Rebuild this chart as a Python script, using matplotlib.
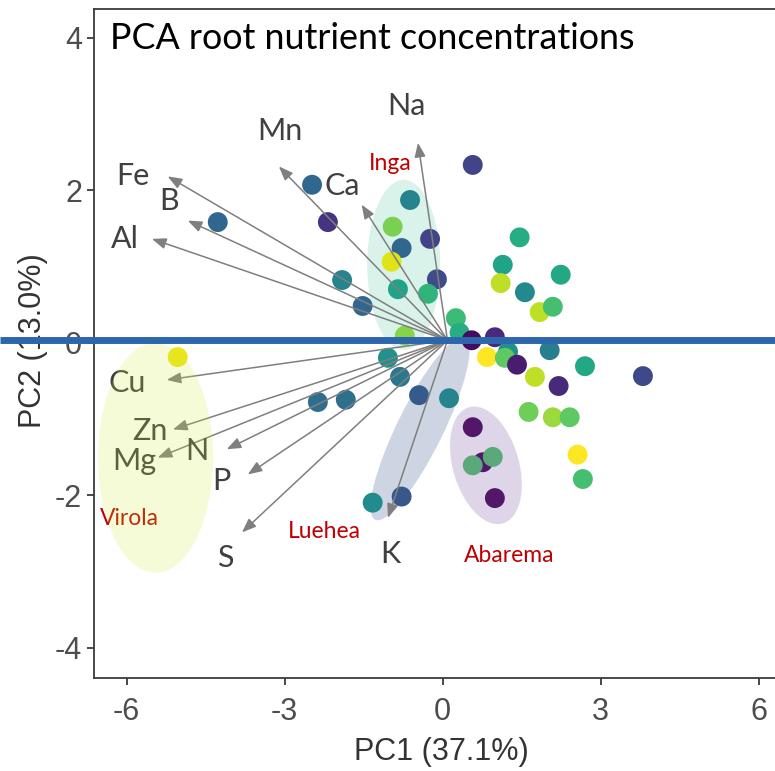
import numpy as np
import matplotlib
matplotlib.use("Agg")
import matplotlib.pyplot as plt
from matplotlib.patches import Ellipse
from matplotlib.lines import Line2D
from matplotlib.transforms import ScaledTranslation

plt.rcParams["axes.unicode_minus"] = False

# ---- sample scores on the first two principal components ----
pc1 = [-4.27, -2.48, -2.18, 0.57, -0.62, -0.95, -0.24, -0.78, -0.97, -1.91,
       -0.85, -0.11, -0.28, -1.52, 0.25, 0.32, -0.72, 1.46, 1.14, 1.10,
       1.56, 2.24, 1.84, 2.09, 0.55, 0.99, 2.03, 0.84, 1.24, 1.18,
       1.41, 1.75, 2.20, 2.70, 3.80, 0.12, 1.63, 2.09, 2.41, 2.56,
       2.66, 0.57, 0.76, 0.99, 0.57, 0.95, -2.37, -1.84, -1.04, -0.81,
       -0.45, -1.33, -0.78, -5.03]
pc2 = [1.58, 2.07, 1.58, 2.33, 1.87, 1.52, 1.36, 1.24, 1.06, 0.82,
       0.70, 0.83, 0.64, 0.48, 0.32, 0.13, 0.09, 1.38, 1.02, 0.78,
       0.66, 0.89, 0.40, 0.47, 0.03, 0.07, -0.10, -0.19, -0.12, -0.20,
       -0.29, -0.45, -0.57, -0.31, -0.44, -0.73, -0.91, -0.98, -0.98, -1.47,
       -1.79, -1.11, -1.57, -2.04, -1.61, -1.50, -0.78, -0.75, -0.20, -0.45,
       -0.69, -2.10, -2.02, -0.19]
# continuous colour variable (0-1) mapped through viridis
group_value = [0.33, 0.33, 0.15, 0.20, 0.45, 0.80, 0.20, 0.33, 0.95, 0.45,
               0.58, 0.23, 0.65, 0.33, 0.68, 0.62, 0.82, 0.62, 0.58, 0.90,
               0.47, 0.60, 0.90, 0.70, 0.03, 0.12, 0.42, 1.00, 0.50, 0.75,
               0.08, 0.90, 0.12, 0.60, 0.22, 0.45, 0.78, 0.85, 0.75, 1.00,
               0.70, 0.00, 0.00, 0.00, 0.72, 0.72, 0.36, 0.36, 0.50, 0.40,
               0.28, 0.48, 0.27, 0.97]

# ---- variable loadings (arrow tips, in score units) ----
variables = ["Fe", "B", "Al", "Mn", "Ca", "Na", "Cu", "Zn", "Mg", "N", "P", "S", "K"]
load_pc1 = [-5.22, -4.84, -5.52, -3.11, -1.54, -0.47, -5.24, -5.12, -5.41, -4.10, -3.70, -3.81, -1.04]
load_pc2 = [2.18, 1.60, 1.36, 2.31, 1.81, 2.62, -0.49, -1.14, -1.51, -1.40, -1.73, -2.49, -2.30]
arrow_origin = (0.09, 0.03)

species = ["Inga", "Virola", "Luehea", "Abarema"]

# ---- layout: text anchors (data coords, baseline) ----
var_label_pos = {
    "Fe": (-5.88, 2.07), "B": (-5.20, 1.74), "Al": (-6.03, 1.24),
    "Mn": (-3.09, 2.66), "Ca": (-1.90, 1.93), "Na": (-0.68, 2.98),
    "Cu": (-5.98, -0.65), "Zn": (-5.56, -1.28), "Mg": (-5.86, -1.67),
    "N": (-4.67, -1.54), "P": (-4.21, -1.93), "S": (-4.13, -2.94),
    "K": (-1.00, -2.89),
}
species_label_pos = {
    "Inga": (-1.00, 2.26), "Virola": (-5.94, -2.39),
    "Luehea": (-2.24, -2.56), "Abarema": (1.27, -2.88),
}
# group ellipses: centre (data), width/height in pixels, angle, fill, alpha, on top?
ellipse_style = {
    "Inga":    dict(xy=(-0.74, 1.02), w=73, h=170, angle=0, fc="#D9F2EA", alpha=1.0, top=False),
    "Luehea":  dict(xy=(-0.43, -1.13), w=203, h=46, angle=63.7, fc="#CDD4E2", alpha=1.0, top=False),
    "Virola":  dict(xy=(-5.45, -1.51), w=115, h=230, angle=0, fc="#CDE637", alpha=0.2, top=True),
    "Abarema": dict(xy=(0.82, -1.61), w=121, h=66, angle=-73.7, fc="#835BAB", alpha=0.25, top=True),
}

DPI = 100
fig = plt.figure(figsize=(7.75, 7.71), dpi=DPI)
ax = fig.add_axes([0.1219, 0.1206, 0.8987, 0.8677])
ax.set_xlim(-6.61, 6.61)
ax.set_ylim(-4.40, 4.375)

for side in ["left", "bottom", "top", "right"]:
    ax.spines[side].set_color("#3a3a3a")
    ax.spines[side].set_linewidth(1.3)

ax.set_xticks([-6, -3, 0, 3, 6])
ax.set_yticks([-4, -2, 0, 2, 4])
tick_font = {"family": ["Liberation Sans", "DejaVu Sans"], "size": 22}
ax.set_xticklabels(["-6", "-3", "0", "3", "6"], fontdict=tick_font)
ax.set_yticklabels(["-4", "-2", "0", "2", "4"], fontdict=tick_font)
ax.tick_params(axis="both", colors="#3a3a3a", labelcolor="#4D4D4D", length=5, width=1.3)
ax.tick_params(axis="x", pad=9)
ax.tick_params(axis="y", pad=4)

fig.text(441 / 775, 1 - 752 / 771, "PC1 (37.1%)", ha="center", va="center",
         fontsize=22, family=["Liberation Sans", "DejaVu Sans"], color="#333333")
fig.text(33 / 775, 1 - 341 / 771, "PC2 (13.0%)", ha="center", va="center", rotation=90,
         fontsize=22, family=["Liberation Sans", "DejaVu Sans"], color="#333333")


def add_ellipse(style, z):
    tr = fig.dpi_scale_trans + ScaledTranslation(style["xy"][0], style["xy"][1], ax.transData)
    e = Ellipse((0, 0), style["w"] / DPI, style["h"] / DPI, angle=style["angle"],
                transform=tr, facecolor=style["fc"], edgecolor="none",
                alpha=style["alpha"], zorder=z)
    ax.add_patch(e)


for name in species:
    st = ellipse_style[name]
    add_ellipse(st, 6 if st["top"] else 1)

# sample points
cmap = plt.get_cmap("viridis")
ax.scatter(pc1, pc2, c=[cmap(v) for v in group_value], s=205, edgecolors="none", zorder=3)

# loading arrows
for name, lx, ly in zip(variables, load_pc1, load_pc2):
    ax.annotate("", xy=(lx, ly), xytext=arrow_origin,
                arrowprops=dict(arrowstyle="-|>,head_length=0.85,head_width=0.33",
                                mutation_scale=10, color="#7F7F7F", lw=1.1,
                                shrinkA=0, shrinkB=0), zorder=4)

label_font = ["Lato", "DejaVu Sans"]
for name in variables:
    x, y = var_label_pos[name]
    ax.text(x, y, name, ha="center", va="baseline", fontsize=22,
            family=label_font, color="#404040", zorder=5)

for name in species:
    x, y = species_label_pos[name]
    ax.text(x, y, name, ha="center", va="baseline", fontsize=16.5,
            family=label_font, color="#C00000", zorder=5)

ax.text(-6.32, 3.85, "PCA root nutrient concentrations", ha="left", va="baseline",
        fontsize=25.8, family=label_font, color="black", zorder=5)

# horizontal rule across the whole figure
fig.add_artist(Line2D([0, 1], [1 - 339.5 / 771, 1 - 339.5 / 771], transform=fig.transFigure,
                      color="#2E66AE", lw=5.0, solid_capstyle="butt", zorder=10))

fig.savefig("out.png", dpi=DPI)
